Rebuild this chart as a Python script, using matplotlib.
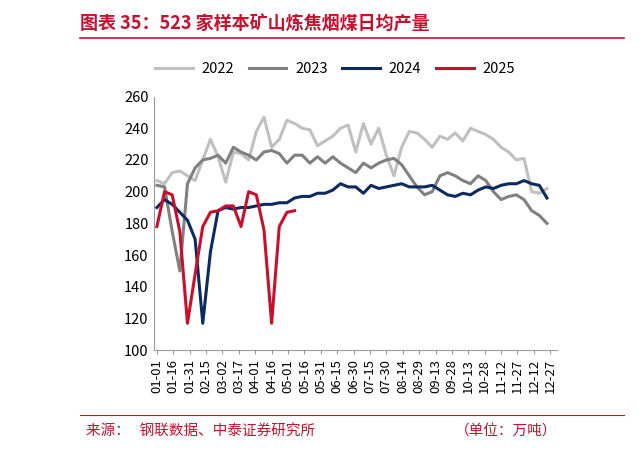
import numpy as np
import matplotlib.pyplot as plt
from matplotlib.lines import Line2D

plt.rcParams['font.family'] = ['Noto Sans CJK SC', 'DejaVu Sans']

tick_labels = ["01-01", "01-16", "01-31", "02-15", "03-02", "03-17", "04-01", "04-16",
               "05-01", "05-16", "05-31", "06-15", "06-30", "07-15", "07-30", "08-14",
               "08-29", "09-13", "09-28", "10-13", "10-28", "11-12", "11-27", "12-12", "12-27"]

y2022 = [207, 205, 212, 213, 210, 207, 220, 233, 222, 206, 225, 224, 220, 238, 247, 228,
         233, 245, 243, 240, 239, 229, 232, 235, 240, 242, 225, 243, 230, 240, 223, 210,
         228, 238, 237, 233, 228, 235, 233, 237, 232, 240, 238, 236, 233, 228, 225, 220,
         221, 200, 199, 202]
y2023 = [204, 203, 175, 150, 205, 215, 220, 221, 223, 218, 228, 225, 223, 220, 225, 226,
         224, 218, 223, 223, 218, 222, 218, 222, 218, 215, 212, 218, 215, 218, 220, 221,
         217, 210, 203, 198, 200, 210, 212, 210, 207, 205, 210, 207, 200, 195, 197, 198,
         195, 188, 185, 180]
y2024 = [190, 195, 192, 187, 182, 170, 117, 162, 188, 190, 189, 190, 190, 191, 192, 192,
         193, 193, 196, 197, 197, 199, 199, 201, 205, 203, 203, 199, 204, 202, 203, 204,
         205, 203, 203, 203, 204, 201, 198, 197, 199, 198, 201, 203, 202, 204, 205, 205,
         207, 205, 204, 196]
y2025 = [178, 200, 198, 175, 117, 148, 178, 187, 188, 191, 191, 178, 200, 198, 176, 117,
         178, 187, 188]

series = [("2022", y2022, "#c0c0c0"), ("2023", y2023, "#808080"),
          ("2024", y2024, "#0d2a5e"), ("2025", y2025, "#c8102e")]

fig = plt.figure(figsize=(6.4, 4.49), dpi=100)
ax = fig.add_axes([0.24, 0.22, 0.63, 0.565])

for name, vals, col in series:
    days = np.arange(len(vals)) * 7.0
    ax.plot(days, vals, color=col, lw=2.2, label=name)

ax.set_ylim(100, 260)
ax.set_yticks(range(100, 261, 20))
ax.set_xlim(-3, 366)
ax.set_xticks(np.arange(len(tick_labels)) * 15)
ax.set_xticklabels(tick_labels, rotation=90, fontsize=9.5)
ax.tick_params(axis='y', labelsize=10.5, length=0)
ax.tick_params(axis='x', length=3, color='#999999')
for s in ['top', 'right']:
    ax.spines[s].set_visible(False)
ax.spines['left'].set_color('#999999')
ax.spines['bottom'].set_color('#999999')

ax.legend(loc='lower left', bbox_to_anchor=(-0.03, 1.03), ncol=4, frameon=False,
          fontsize=10.5, handlelength=2.6, handletextpad=0.6, columnspacing=1.0)

fig.text(0.125, 0.945, "图表 35：523 家样本矿山炼焦烟煤日均产量", color='#c8102e',
         fontsize=13, fontweight='bold', style='italic', va='center')
fig.add_artist(Line2D([0.125, 0.975], [0.915, 0.915], color='#c8102e', lw=1.2))
fig.add_artist(Line2D([0.125, 0.975], [0.075, 0.075], color='#c8102e', lw=0.8))
fig.text(0.135, 0.04, "来源：   钢联数据、中泰证券研究所", color='#c8102e', fontsize=10.5, va='center')
fig.text(0.87, 0.04, "（单位：万吨）", color='#c8102e', fontsize=10.5, va='center', ha='right')

fig.savefig("out.png", dpi=100)
